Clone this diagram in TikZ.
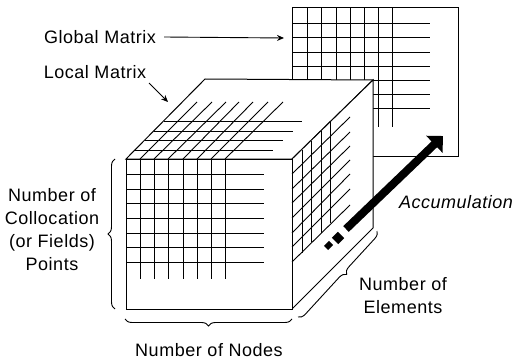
\documentclass[tikz,border=0pt]{standalone}
\usepackage{fontspec}
\setmainfont[LetterSpace=3]{Liberation Sans}
\usetikzlibrary{arrows.meta,decorations.pathreplacing}

\begin{document}
\begin{tikzpicture}[
    x=1pt, y=-1pt,
    font=\fontsize{18}{23}\selectfont,
    label/.style={inner sep=0pt, align=center},
    edge/.style={line width=1pt, fill=white},
    grid/.style={line width=0.9pt},
    arrow/.style={-{Stealth[length=7pt,width=6pt]}, line width=0.9pt},
    brace/.style={line width=0.9pt, decorate, decoration={brace, amplitude=7pt}},
    bigarrow/.style={line width=8pt, black}
]
    \useasboundingbox (0,0) rectangle (517,361);

    % Global matrix behind the cube
    \draw[edge] (292,8) rectangle (458,156);
    \foreach \y in {23,37,52,66,80,94,108} \draw[grid] (292,\y) -- (430,\y);
    \foreach \x in {307,321,336,350,364,378,392} \draw[grid] (\x,8) -- (\x,127);

    % Cube faces
    \coordinate (fronttl) at (126,159);
    \coordinate (fronttr) at (292,159);
    \coordinate (frontbl) at (126,309);
    \coordinate (frontbr) at (292,309);
    \coordinate (backtl) at (205,79);
    \coordinate (backtr) at (373,80);
    \coordinate (backbr) at (373,228);
    \draw[edge] (fronttl) -- (backtl) -- (backtr) -- (fronttr) -- cycle;
    \draw[edge] (fronttr) -- (backtr) -- (backbr) -- (frontbr) -- cycle;
    \draw[edge] (fronttl) rectangle (frontbr);

    % Front face grid
    \foreach \y in {174,189,203,218,233,247,262} \draw[grid] (126,\y) -- (264,\y);
    \foreach \x in {140,154,168,183,197,211,225} \draw[grid] (\x,159) -- (\x,279);

    % Top face grid
    \foreach \x/\ex in {140/197,154/212,168/226,183/239,197/253,211/268,225/283}
        \draw[grid] (\x,159) -- (\ex,102);
    \foreach \sx/\y/\ex in {164/121/302,154/131/293,145/140/283,135/150/273}
        \draw[grid] (\sx,\y) -- (\ex,\y);

    % Right face grid
    \foreach \y/\ey in {174/117,189/132,203/146,218/160,233/174,247/189,262/205}
        \draw[grid] (292,\y) -- (350,\ey);
    \foreach \x/\sy/\ey in {302/150/253,311/141/242,321/131/233,330/122/223}
        \draw[grid] (\x,\sy) -- (\x,\ey);

    % Accumulation arrow
    \coordinate (accstart) at (346,229);
    \coordinate (accend) at (443,136);
    \coordinate (dasha) at (326,248);
    \coordinate (dashb) at (331,243);
    \coordinate (dashc) at (335,241);
    \coordinate (dashd) at (341,235);
    \draw[bigarrow, -{Triangle[length=12pt,width=23pt]}] (accstart) -- (accend);
    \draw[bigarrow, line width=6pt] (dasha) -- (dashb);
    \draw[bigarrow, line width=9pt] (dashc) -- (dashd);

    % Labels
    \node[label] (globallabel) at (100,37) {Global Matrix};
    \node[label] (locallabel) at (95,72) {Local Matrix};
    \node[label] (pointslabel) at (52,230) {Number of\\Collocation\\(or Fields)\\Points};
    \node[label] (nodeslabel) at (209,350) {Number of Nodes};
    \node[label] (elementslabel) at (403,296) {Number of\\Elements};
    \node[label, font=\fontsize{18}{23}\selectfont\itshape] (acclabel) at (456,202) {Accumulation};

    % Pointers
    \coordinate (globaltip) at (284,38);
    \coordinate (localfrom) at (149,83);
    \coordinate (localtip) at (168,102);
    \draw[arrow] (globallabel.east) ++(8,0) -- (globaltip);
    \draw[arrow] (localfrom) -- (localtip);

    % Braces
    \coordinate (pointsbot) at (115,309);
    \coordinate (pointstop) at (115,159);
    \coordinate (nodesright) at (292,319);
    \coordinate (nodesleft) at (125,319);
    \coordinate (elemtop) at (377,231);
    \coordinate (elembot) at (298,317);
    \draw[brace] (pointsbot) -- (pointstop);
    \draw[brace] (nodesright) -- (nodesleft);
    \draw[brace, decoration={aspect=0.45}] (elemtop) -- (elembot);
\end{tikzpicture}
\end{document}
